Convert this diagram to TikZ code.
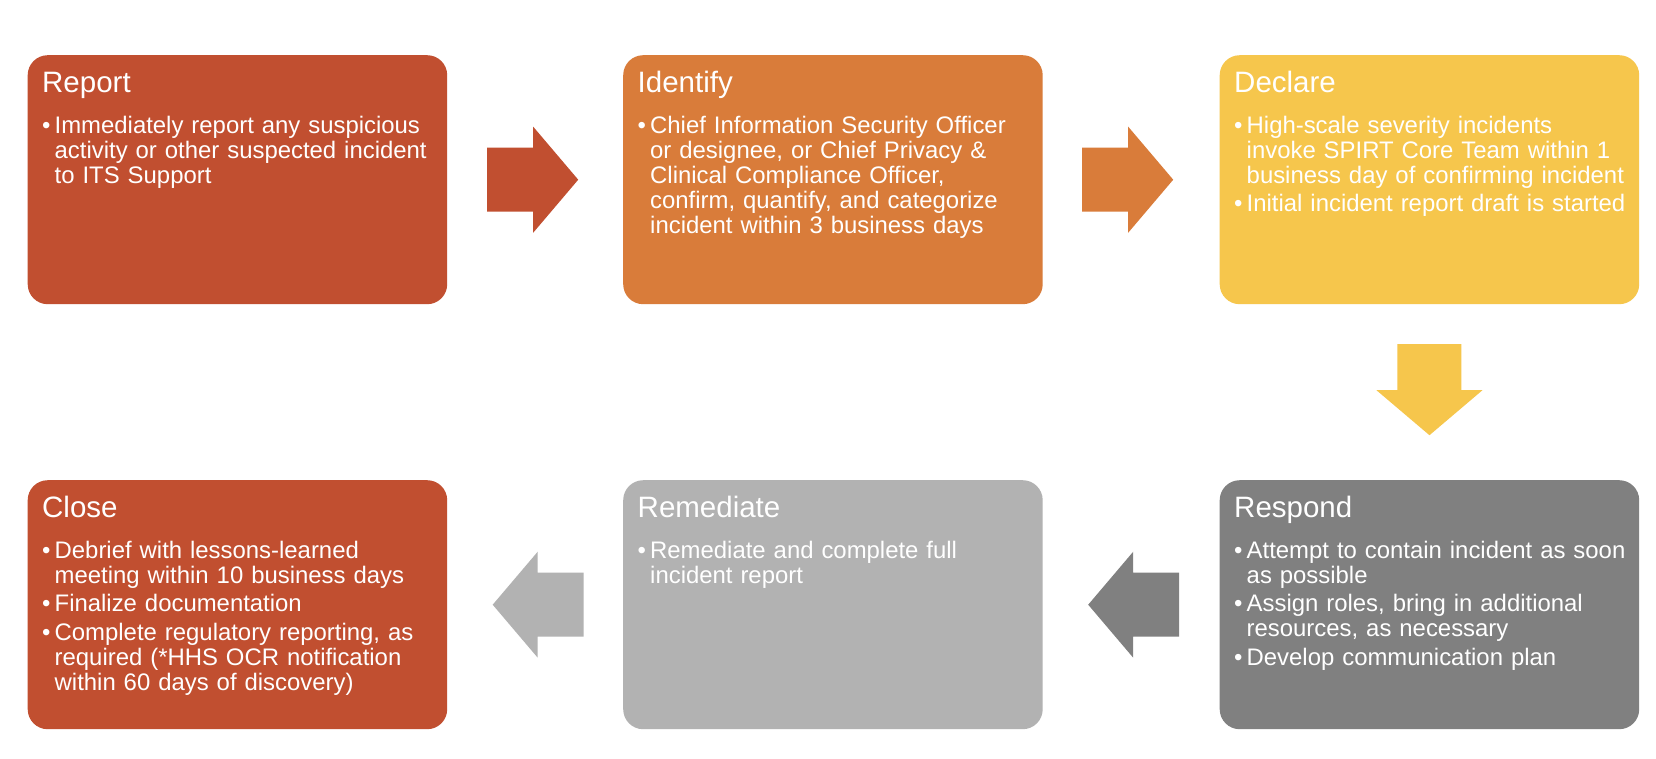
\documentclass[tikz,border=0pt]{standalone}
\usepackage{fontspec}
\setmainfont{Liberation Sans}
\usetikzlibrary{calc}
\definecolor{cRed}{HTML}{C14F30}
\definecolor{cOrange}{HTML}{D97C3A}
\definecolor{cYellow}{HTML}{F6C64C}
\definecolor{cDark}{HTML}{808080}
\definecolor{cLight}{HTML}{B2B2B2}
\newcommand{\bitem}[1]{\par\hangindent=12.5pt\hangafter=1\noindent\makebox[12.5pt][l]{\rule{0pt}{18pt}\textbullet}#1\par}
\tikzset{
  stepbox/.style={rounded corners=20pt, minimum width=419.5pt, minimum height=249pt, inner sep=0pt, anchor=north west, draw=none},
  steptitle/.style={anchor=base west, inner sep=0pt, text=white, font=\fontsize{29.5}{32}\selectfont},
  stepbody/.style={anchor=north west, inner sep=0pt, text width=400pt, align=left, text=white,
     font=\fontsize{23.9}{25}\selectfont\setlength{\parskip}{3.5pt}},
  blockarrow/.pic={\fill[#1] (-45.5,-32) -- (0.5,-32) -- (0.5,-53) -- (45.5,0) -- (0.5,53) -- (0.5,32) -- (-45.5,32) -- cycle;}
}
\begin{document}
\begin{tikzpicture}[x=1pt,y=-1pt]
\fill[white] (0,0) rectangle (1656,758);
\useasboundingbox (0,0) rectangle (1656,758);

% boxes
\node[stepbox, fill=cRed]    (report)    at (27.5,55)   {};
\node[stepbox, fill=cOrange] (identify)  at (623,55)    {};
\node[stepbox, fill=cYellow] (declare)   at (1219.5,55) {};
\node[stepbox, fill=cDark]   (respond)   at (1219.5,480) {};
\node[stepbox, fill=cLight]  (remediate) at (623,480)   {};
\node[stepbox, fill=cRed]    (close)     at (27.5,480)  {};

% titles
\node[steptitle] (reportT)    at ($(report.north west)+(14.5,37)$)    {Report};
\node[steptitle] (identifyT)  at ($(identify.north west)+(14.5,37)$)  {Identify};
\node[steptitle] (declareT)   at ($(declare.north west)+(14.5,37)$)   {Declare};
\node[steptitle] (respondT)   at ($(respond.north west)+(14.5,37)$)   {Respond};
\node[steptitle] (remediateT) at ($(remediate.north west)+(14.5,37)$) {Remediate};
\node[steptitle] (closeT)     at ($(close.north west)+(14.5,37)$)     {Close};

% bodies
\node[stepbody] (reportB) at ($(report.north west)+(14.5,49.5)$) {%
\bitem{Immediately report any suspicious\newline activity or other suspected incident\newline to ITS Support}};
\node[stepbody] (identifyB) at ($(identify.north west)+(14.5,49.5)$) {%
\bitem{Chief Information Security Officer\newline or designee, or Chief Privacy \&\newline Clinical Compliance Officer,\newline confirm, quantify, and categorize\newline incident within 3 business days}};
\node[stepbody] (declareB) at ($(declare.north west)+(14.5,49.5)$) {%
\bitem{High-scale severity incidents\newline invoke SPIRT Core Team within 1\newline business day of confirming incident}%
\bitem{Initial incident report draft is started}};
\node[stepbody] (respondB) at ($(respond.north west)+(14.5,49.5)$) {%
\bitem{Attempt to contain incident as soon\newline as possible}%
\bitem{Assign roles, bring in additional\newline resources, as necessary}%
\bitem{Develop communication plan}};
\node[stepbody] (remediateB) at ($(remediate.north west)+(14.5,49.5)$) {%
\bitem{Remediate and complete full\newline incident report}};
\node[stepbody] (closeB) at ($(close.north west)+(14.5,49.5)$) {%
\bitem{Debrief with lessons-learned\newline meeting within 10 business days}%
\bitem{Finalize documentation}%
\bitem{Complete regulatory reporting, as\newline required (*HHS OCR notification\newline within 60 days of discovery)}};

% arrows
\coordinate (a1) at ($($(report.east)!0.5!(identify.west)$)+(-2.5,0)$);
\coordinate (a2) at ($($(identify.east)!0.5!(declare.west)$)+(-3.5,0)$);
\coordinate (a3) at ($($(declare.south)!0.5!(respond.north)$)+(0,-2.5)$);
\coordinate (a4) at ($($(respond.west)!0.5!(remediate.east)$)+(2.5,0)$);
\coordinate (a5) at ($($(remediate.west)!0.5!(close.east)$)+(3,0)$);
\pic at (a1) {blockarrow=cRed};
\pic at (a2) {blockarrow=cOrange};
\pic[rotate=-90] at (a3) {blockarrow=cYellow};
\pic[rotate=180] at (a4) {blockarrow=cDark};
\pic[rotate=180] at (a5) {blockarrow=cLight};
\end{tikzpicture}
\end{document}
